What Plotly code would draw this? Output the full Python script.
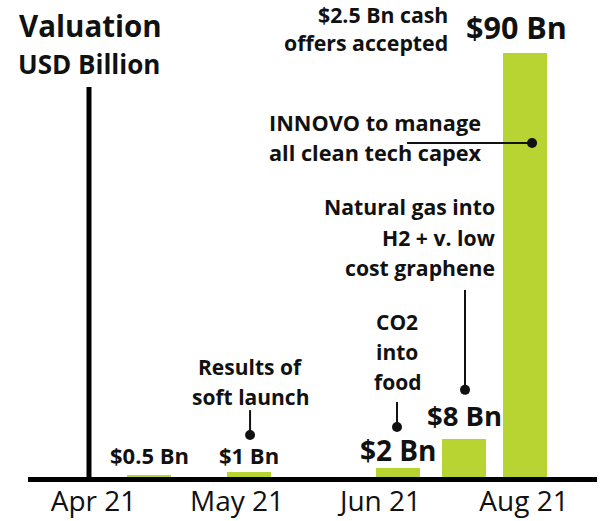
import plotly.graph_objects as go

# ---- data ----
month_labels = ["Apr 21", "May 21", "Jun 21", "Aug 21"]
month_pos = [0, 1, 2, 3]
bar_x = [0.39, 1.084, 2.125, 2.585, 3.007]          # position in month units
valuations = [0.5, 1, 2, 8, 90]                       # USD billion
value_labels = ["$0.5 Bn", "$1 Bn", "$2 Bn", "$8 Bn", "$90 Bn"]

BAR_COLOR = "#b8d433"
TXT = "#111111"
FONT = "Open Sans"
PX_PER_UNIT = 424 / 90.0   # vertical pixels per billion
PLOT_H = 477

fig = go.Figure()
fig.add_trace(go.Bar(
    x=bar_x, y=valuations, width=0.307,
    marker=dict(color=BAR_COLOR, line=dict(width=0)),
    hoverinfo="skip", showlegend=False,
))

annotations = []

def txt(x, y, lines, size, spacing, xanchor="center", bold=True, xref="x", yref="y"):
    n = len(lines)
    for i, line in enumerate(lines):
        annotations.append(dict(
            x=x, y=y, xref=xref, yref=yref, text=("<b>%s</b>" % line) if bold else line,
            showarrow=False, xanchor=xanchor, yanchor="middle",
            yshift=-(i - (n - 1) / 2.0) * spacing,
            font=dict(family=FONT, size=size, color=TXT),
        ))

# bar value labels (size, vertical pixel offset above bar top, x pixel shift)
label_sizes = [22, 22, 28, 27.5, 30.5]
label_shift = [20, 17, 18, 24, 26]
label_xshift = [0, 0, 0, 0, -9]
for bx, v, lab, s, sh, xs in zip(bar_x, valuations, value_labels, label_sizes, label_shift, label_xshift):
    annotations.append(dict(
        x=bx, y=v, text="<b>%s</b>" % lab, showarrow=False, xanchor="center",
        yanchor="middle", yshift=sh, xshift=xs,
        font=dict(family=FONT, size=s, color=TXT),
    ))

# titles
txt(-0.024, 95.9, ["Valuation"], 29.5, 0)
txt(-0.031, 87.7, ["USD Billion"], 26, 0)

# call-out texts
txt(2.484, 95.3, ["$2.5 Bn cash", "offers accepted"], 21.3, 28, xanchor="right")
txt(1.962, 72.0, ["INNOVO to manage", "all clean tech capex"], 21.7, 30)
txt(2.812, 50.9, ["Natural gas into", "H2 + v. low", "cost graphene"], 21.2, 30.5, xanchor="right")
txt(2.115, 26.5, ["CO2", "into", "food"], 21, 30)
txt(1.091, 20.2, ["Results of", "soft launch"], 21, 30)

# call-out leader lines and dots
dot_x = [1.091, 2.115, 2.589, 3.056]
dot_y = [8.9, 10.6, 18.5, 70.9]
shapes = [
    dict(type="line", xref="x", yref="y", x0=1.091, x1=1.091, y0=8.9, y1=14.2,
         line=dict(color=TXT, width=2)),
    dict(type="line", xref="x", yref="y", x0=2.115, x1=2.115, y0=10.6, y1=15.9,
         line=dict(color=TXT, width=2)),
    dict(type="line", xref="x", yref="y", x0=2.589, x1=2.589, y0=18.5, y1=39.7,
         line=dict(color=TXT, width=2)),
    dict(type="line", xref="x", yref="y", x0=2.185, x1=3.056, y0=70.9, y1=70.9,
         line=dict(color=TXT, width=2)),
    # axes
    dict(type="line", xref="paper", yref="paper", x0=0, x1=1,
         y0=-2.5 / PLOT_H, y1=-2.5 / PLOT_H, line=dict(color="#000", width=5)),
    dict(type="line", xref="paper", yref="paper", x0=(89 - 28) / 569, x1=(89 - 28) / 569,
         y0=-2.5 / PLOT_H, y1=(477 - 87) / PLOT_H, line=dict(color="#000", width=5)),
]
fig.add_trace(go.Scatter(
    x=dot_x, y=dot_y, mode="markers",
    marker=dict(color=TXT, size=10), hoverinfo="skip", showlegend=False,
))

fig.update_layout(
    width=603, height=521,
    margin=dict(l=28, r=6, t=0, b=521 - PLOT_H),
    paper_bgcolor="white", plot_bgcolor="white",
    annotations=annotations, shapes=shapes,
    xaxis=dict(range=[-0.4564, 3.5087], tickvals=month_pos, ticktext=month_labels,
               showgrid=False, zeroline=False, showline=False, ticks="",
               tickfont=dict(family=FONT, size=28, color=TXT), ticklabelstandoff=5,
               fixedrange=True),
    yaxis=dict(range=[0, PLOT_H / PX_PER_UNIT], showgrid=False, zeroline=False,
               showline=False, showticklabels=False, ticks="", fixedrange=True),
    bargap=0,
)

fig.write_html("out.html", config={"displayModeBar": False},
               post_script="document.body.style.margin='0';document.body.style.overflow='hidden';")
